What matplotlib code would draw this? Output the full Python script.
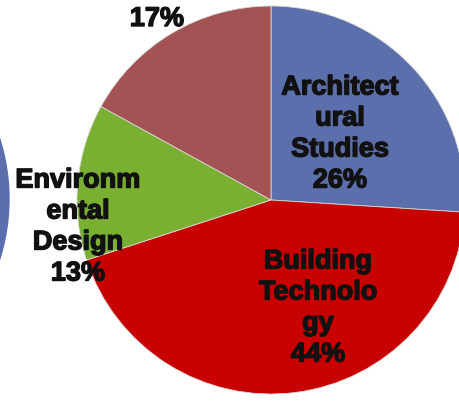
import matplotlib.pyplot as plt
import matplotlib.patheffects as pe
from matplotlib.patches import Circle

labels = ['Architect\nural\nStudies', 'Building\nTechnolo\ngy', 'Environm\nental\nDesign', '']
shares = [26, 44, 13, 17]
colors = ['#5a6fab', '#c80000', '#79b032', '#a35353']

plt.rcParams['font.family'] = ['Liberation Sans', 'DejaVu Sans']

fig = plt.figure(figsize=(4.59, 4.02), dpi=100)
ax = fig.add_axes([0, 0, 1, 1])

# part of the neighbouring pie, cut by the left border
ax.add_patch(Circle((-191, 202), 200, color='#5a6fab'))

ax.pie(shares, colors=colors, startangle=90, counterclock=False,
       center=(271, 201), radius=194, frame=True,
       wedgeprops=dict(edgecolor='#d8d8d8', linewidth=0.6))
ax.set_xlim(0, 459)
ax.set_ylim(0, 402)
ax.set_aspect('equal')
ax.axis('off')

# label positions (image pixels, y measured from the top)
pos = [(340, 135), (318, 309), (78, 228), (157, 20)]
for lab, v, (x, y) in zip(labels, shares, pos):
    txt = f'{lab}\n{v}%' if lab else f'{v}%'
    ax.text(x, 402 - y, txt, ha='center', va='center', fontsize=19.5,
            fontweight='bold', color='#111111', linespacing=1.25,
            path_effects=[pe.withStroke(linewidth=1.0, foreground='#111111')])

fig.savefig('out.png', dpi=100)
